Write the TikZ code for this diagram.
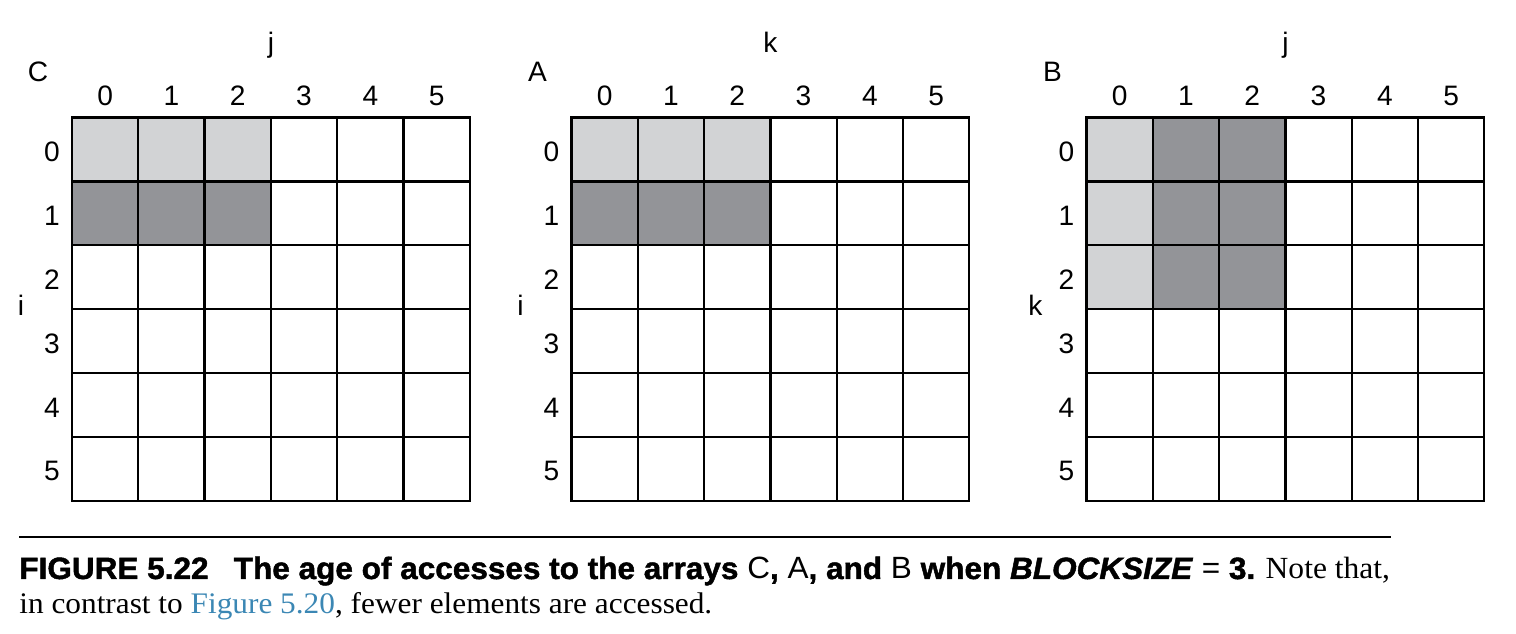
\documentclass[tikz,border=0pt]{standalone}
\usepackage{fontspec}
\setmainfont{Liberation Serif}
\setsansfont{Liberation Sans}
\newfontfamily\capsans{Liberation Sans}[BoldFeatures={FakeBold=1.5}, BoldItalicFeatures={FakeBold=1.5}]
\usepackage{graphicx}
\usetikzlibrary{calc}
\definecolor{lightcell}{RGB}{210,211,213}
\definecolor{darkcell}{RGB}{147,148,152}
\definecolor{figlink}{RGB}{59,135,180}
\tikzset{
	lbl/.style={font=\sffamily\fontsize{16}{19}\selectfont, inner sep=0pt, anchor=base},
	cellline/.style={line width=0.045cm, line cap=rect},
	captext/.style={inner sep=0pt, anchor=base west}
}
\def\cellw{66.3}
\def\cellh{63.9}
\def\gtop{117.5}
\def\arraygrid(#1:#2)(#3:#4){%
	\node[lbl] (#1) at (#2-34, 82) {#1};
	\node[lbl] (#1-top) at (#2+3*\cellw, 53) {#3};
	\node[lbl] (#1-side) at (#2-51, 316) {#4};
	\foreach \n in {0,...,5}{
		\node[lbl] (#1-col\n) at (#2+\n*\cellw+0.5*\cellw, 106) {\n};
		\node[lbl] (#1-row\n) at (#2-20, \gtop+\n*\cellh+0.5*\cellh+12) {\n};
	}
	\foreach \n in {0,...,6}{
		\draw[cellline] (#2+\n*\cellw, \gtop) -- ++(0, 6*\cellh);
		\draw[cellline] (#2, \gtop+\n*\cellh) -- ++(6*\cellw, 0);
	}
}

\begin{document}
\begin{tikzpicture}[x=0.02cm, y=-0.02cm]
		%%%%% START %%%%%
		\useasboundingbox (0, 0) rectangle (1516, 634);
		
		% C
		\fill[lightcell] (72, \gtop) rectangle ++(3*\cellw, \cellh);
		\fill[darkcell] (72, \gtop+\cellh) rectangle ++(3*\cellw, \cellh);
		\arraygrid(C:72)(j:i)
		
		% A
		\fill[lightcell] (571.5, \gtop) rectangle ++(3*\cellw, \cellh);
		\fill[darkcell] (571.5, \gtop+\cellh) rectangle ++(3*\cellw, \cellh);
		\arraygrid(A:571.5)(k:i)
		
		% B
		\fill[lightcell] (1086.5, \gtop) rectangle ++(\cellw, 3*\cellh);
		\fill[darkcell] (1086.5+\cellw, \gtop) rectangle ++(2*\cellw, 3*\cellh);
		\arraygrid(B:1086.5)(j:k)
		
		% caption
		\draw[line width=0.04cm] (19, 537) -- (1391, 537);
		\node[captext] (cap1) at (19, 579) {\resizebox{27.42cm}{\height}{\fontsize{17.5}{20}\selectfont{\capsans\bfseries FIGURE 5.22\hspace{0.8em}The age of accesses to the arrays {\mdseries C}, {\mdseries A}, and {\mdseries B} when \textit{BLOCKSIZE} {\mdseries=} 3.} {\rmfamily Note that,}}};
		\node[captext] (cap2) at (19, 614) {\resizebox{13.86cm}{\height}{\fontsize{17}{20}\selectfont\rmfamily in contrast to \textcolor{figlink}{Figure 5.20}, fewer elements are accessed.}};
		%%%%% END %%%%%
	\end{tikzpicture}
\end{document}
